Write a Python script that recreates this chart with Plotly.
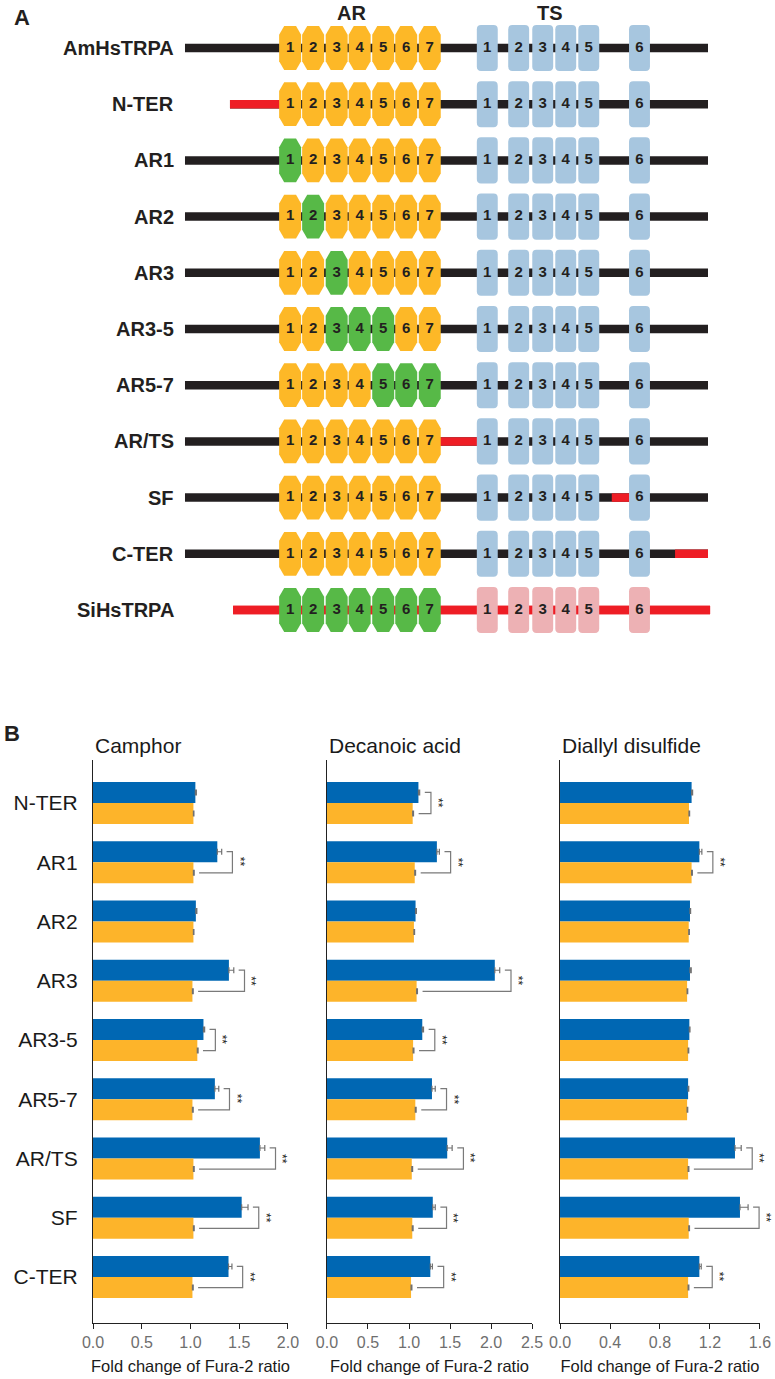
import plotly.graph_objects as go

# ---- Panel A: domain maps (positions in arbitrary sequence units) ----
CONSTRUCTS = ["AmHsTRPA", "N-TER", "AR1", "AR2", "AR3", "AR3-5", "AR5-7",
              "AR/TS", "SF", "C-TER", "SiHsTRPA"]
AR_REPEATS = ["1", "2", "3", "4", "5", "6", "7"]
AR_CENTERS = [201, 245, 290, 334, 379, 423, 468]
TS_SEGMENTS = ["1", "2", "3", "4", "5", "6"]
TS_CENTERS = [578, 638, 684, 728, 772, 869]
BACKBONE_START = [0, 86, 0, 0, 0, 0, 0, 0, 0, 0, 92]
BACKBONE_END = [1000, 1000, 1000, 1000, 1000, 1000, 1000, 1000, 1000, 1000, 1004]
RED_SEGMENTS = {
    "N-TER": (86, 201),
    "AR/TS": (468, 578),
    "SF": (816, 869),
    "C-TER": (937, 1000),
    "SiHsTRPA": (92, 1004),
}
GREEN_REPEATS = {
    "AR1": ["1"],
    "AR2": ["2"],
    "AR3": ["3"],
    "AR3-5": ["3", "4", "5"],
    "AR5-7": ["5", "6", "7"],
    "SiHsTRPA": AR_REPEATS,
}
PINK_TS = ["SiHsTRPA"]

# ---- Panel B: Fura-2 fold change ----
MUTANTS = ["N-TER", "AR1", "AR2", "AR3", "AR3-5", "AR5-7", "AR/TS", "SF", "C-TER"]

CAMPHOR_CHIMERA = [1.05, 1.275, 1.055, 1.394, 1.133, 1.25, 1.712, 1.525, 1.39]
CAMPHOR_CHIMERA_ERR = [0.01, 0.045, 0.01, 0.05, 0.012, 0.04, 0.05, 0.065, 0.035]
CAMPHOR_AMHS = [1.03, 1.03, 1.03, 1.02, 1.07, 1.02, 1.03, 1.03, 1.02]
CAMPHOR_AMHS_ERR = [0.005, 0.008, 0.005, 0.008, 0.008, 0.008, 0.008, 0.008, 0.008]
CAMPHOR_SIG = [False, True, False, True, True, True, True, True, True]

DECANOIC_CHIMERA = [1.115, 1.34, 1.08, 2.046, 1.162, 1.28, 1.466, 1.29, 1.26]
DECANOIC_CHIMERA_ERR = [0.015, 0.03, 0.01, 0.06, 0.015, 0.04, 0.06, 0.03, 0.025]
DECANOIC_AMHS = [1.045, 1.07, 1.06, 1.093, 1.05, 1.077, 1.034, 1.04, 1.025]
DECANOIC_AMHS_ERR = [0.01, 0.01, 0.008, 0.01, 0.01, 0.01, 0.01, 0.01, 0.01]
DECANOIC_SIG = [True, True, False, True, True, True, True, True, True]

DIALLYL_CHIMERA = [1.053, 1.115, 1.04, 1.04, 1.035, 1.025, 1.40, 1.44, 1.115]
DIALLYL_CHIMERA_ERR = [0.008, 0.02, 0.005, 0.01, 0.005, 0.005, 0.05, 0.065, 0.015]
DIALLYL_AMHS = [1.032, 1.053, 1.03, 1.017, 1.025, 1.017, 1.025, 1.03, 1.025]
DIALLYL_AMHS_ERR = [0.005, 0.006, 0.005, 0.005, 0.005, 0.005, 0.006, 0.006, 0.006]
DIALLYL_SIG = [False, True, False, False, False, False, True, True, True]

FONT = "Arial, Liberation Sans, sans-serif"
NARROW = "Liberation Sans Narrow, Arial Narrow, Liberation Sans, sans-serif"
DARK = "#231F20"
ORANGE = "#FDB827"
GREEN = "#57B947"
STEEL = "#A7C6DF"
PINK = "#EDB1B4"
RED = "#EE1D25"
BAR_BLUE = "#0067B3"
BAR_ORANGE = "#FDB42A"

Y_RANGE = [8.776, -0.726]


def hexagon(cx, cy, hw=21, hh=0.39):
    pts = [(cx - 0.54 * hw, cy - hh), (cx + 0.54 * hw, cy - hh), (cx + hw, cy - 0.6 * hh),
           (cx + hw, cy + 0.6 * hh), (cx + 0.54 * hw, cy + hh), (cx - 0.54 * hw, cy + hh),
           (cx - hw, cy + 0.6 * hh), (cx - hw, cy - 0.6 * hh)]
    return "M " + " L ".join(f"{x},{y}" for x, y in pts) + " Z"


def rounded_box(cx, cy, hw=20, hh=0.41, rx=8, ry=0.08):
    x0, x1, y0, y1 = cx - hw, cx + hw, cy - hh, cy + hh
    return (f"M {x0 + rx},{y0} L {x1 - rx},{y0} Q {x1},{y0} {x1},{y0 + ry} "
            f"L {x1},{y1 - ry} Q {x1},{y1} {x1 - rx},{y1} L {x0 + rx},{y1} "
            f"Q {x0},{y1} {x0},{y1 - ry} L {x0},{y0 + ry} Q {x0},{y0} {x0 + rx},{y0} Z")


def yfrac(y):
    # position inside the (reversed) y range as a fraction of the axis domain
    return (Y_RANGE[0] - y) / (Y_RANGE[0] - Y_RANGE[1])


fig = go.Figure()
shapes = []
annotations = []

# ---- Panel A drawing ----
num_x, num_y, num_text = [], [], []
for row, name in enumerate(CONSTRUCTS):
    ref = dict(xref="x4", yref="y4", layer="below")
    backbone = RED if name == "SiHsTRPA" else DARK
    shapes.append(dict(type="line", x0=BACKBONE_START[row], x1=BACKBONE_END[row], y0=row, y1=row,
                       line=dict(color=backbone, width=8.5), **ref))
    if name in RED_SEGMENTS:
        a, b = RED_SEGMENTS[name]
        shapes.append(dict(type="line", x0=a, x1=b, y0=row, y1=row,
                           line=dict(color=RED, width=8.5), **ref))
    greens = GREEN_REPEATS.get(name, [])
    for label, cx in zip(AR_REPEATS, AR_CENTERS):
        color = GREEN if label in greens else ORANGE
        shapes.append(dict(type="path", path=hexagon(cx, row), fillcolor=color,
                           line=dict(width=0), **ref))
        num_x.append(cx)
        num_y.append(row)
        num_text.append(label)
    box_color = PINK if name in PINK_TS else STEEL
    for label, cx in zip(TS_SEGMENTS, TS_CENTERS):
        shapes.append(dict(type="path", path=rounded_box(cx, row), fillcolor=box_color,
                           line=dict(width=0), **ref))
        num_x.append(cx)
        num_y.append(row)
        num_text.append(label)
    annotations.append(dict(text=f"<b>{name}</b>", x=176 / 775, xref="paper", y=row, yref="y4",
                            xanchor="right", yanchor="middle", showarrow=False,
                            font=dict(family=FONT, size=20, color=DARK)))

fig.add_trace(go.Scatter(x=num_x, y=num_y, text=num_text, mode="text", xaxis="x4", yaxis="y4",
                         textfont=dict(family=FONT, size=15, color=DARK, weight="bold"),
                         hoverinfo="skip", showlegend=False))

annotations.append(dict(text="<b>AR</b>", x=sum(AR_CENTERS) / len(AR_CENTERS) - 15, xref="x4",
                        y=1 - 13 / 1379, yref="paper", yanchor="middle", showarrow=False,
                        font=dict(family=FONT, size=20, color=DARK)))
annotations.append(dict(text="<b>TS</b>", x=sum(TS_CENTERS) / len(TS_CENTERS) - 13, xref="x4",
                        y=1 - 13 / 1379, yref="paper", yanchor="middle", showarrow=False,
                        font=dict(family=FONT, size=20, color=DARK)))
annotations.append(dict(text="<b>A</b>", x=12 / 775, xref="paper", y=1 - 18 / 1379, yref="paper",
                        xanchor="left", yanchor="middle", showarrow=False,
                        font=dict(family=FONT, size=22, color=DARK)))
annotations.append(dict(text="<b>B</b>", x=2 / 775, xref="paper", y=1 - 733 / 1379, yref="paper",
                        xanchor="left", yanchor="middle", showarrow=False,
                        font=dict(family=FONT, size=22, color=DARK)))

# ---- Panel B drawing ----
panels = [
    ("Camphor", CAMPHOR_CHIMERA, CAMPHOR_CHIMERA_ERR, CAMPHOR_AMHS, CAMPHOR_AMHS_ERR, CAMPHOR_SIG,
     2.0, 0.5, [0.12, 0.3716]),
    ("Decanoic acid", DECANOIC_CHIMERA, DECANOIC_CHIMERA_ERR, DECANOIC_AMHS, DECANOIC_AMHS_ERR,
     DECANOIC_SIG, 2.5, 0.5, [0.4219, 0.6865]),
    ("Diallyl disulfide", DIALLYL_CHIMERA, DIALLYL_CHIMERA_ERR, DIALLYL_AMHS, DIALLYL_AMHS_ERR,
     DIALLYL_SIG, 1.6, 0.4, [0.7226, 0.9806]),
]
ypos = list(range(len(MUTANTS)))
y_domain = [1 - 1323 / 1379, 1 - 760 / 1379]
layout_axes = {}

for k, (title, chim, chim_err, amhs, amhs_err, sig, xmax, dtick, xdom) in enumerate(panels, start=1):
    xa, ya = f"x{k}" if k > 1 else "x", f"y{k}" if k > 1 else "y"
    for vals, errs, color in [(chim, chim_err, BAR_BLUE), (amhs, amhs_err, BAR_ORANGE)]:
        fig.add_trace(go.Bar(
            x=vals, y=ypos, orientation="h", xaxis=xa, yaxis=ya,
            marker=dict(color=color, line=dict(width=0)),
            error_x=dict(type="data", array=errs, arrayminus=[0] * len(errs), symmetric=False,
                         color="#707070", thickness=1.2, width=3),
            showlegend=False, hoverinfo="x",
        ))
    # significance brackets, placed on the axis domain so they may run past the last tick
    gap = 0.025 * xmax
    reach = 0.055 * xmax
    for i, flag in enumerate(sig):
        if not flag:
            continue
        top = chim[i] + chim_err[i]
        bx = (top + reach) / xmax
        y_up, y_lo = yfrac(i - 0.18), yfrac(i + 0.18)
        path = (f"M {(top + gap) / xmax},{y_up} L {bx},{y_up} L {bx},{y_lo} "
                f"L {(amhs[i] + amhs_err[i] + gap) / xmax},{y_lo}")
        shapes.append(dict(type="path", path=path, xref=f"{xa} domain", yref=f"{ya} domain",
                           layer="above", line=dict(color="#7a7a7a", width=1.2)))
        annotations.append(dict(text="**", x=bx, xref=f"{xa} domain", y=yfrac(i),
                                yref=f"{ya} domain", xanchor="center", yanchor="middle",
                                xshift=7, textangle=90, showarrow=False,
                                font=dict(family=FONT, size=12, color="#222222")))
    annotations.append(dict(text=title, x=xdom[0], xref="paper", y=1 - 745 / 1379, yref="paper",
                            xanchor="left", yanchor="middle", showarrow=False,
                            font=dict(family=FONT, size=21, color="#1a1a1a")))
    ticks = [round(dtick * j, 2) for j in range(int(round(xmax / dtick)) + 1)]
    layout_axes[f"xaxis{k if k > 1 else ''}"] = dict(
        domain=xdom, anchor=ya, range=[0, xmax], tickvals=ticks, tickformat=".1f",
        ticks="outside", ticklen=5, tickcolor="#222222", showline=True, linecolor="#222222",
        linewidth=1, showgrid=False, zeroline=False, automargin=False,
        tickfont=dict(family=NARROW, size=16, color="#6e6e6e"),
        title=dict(text="Fold change of Fura-2 ratio", standoff=10,
                   font=dict(family=FONT, size=16.5, color="#1a1a1a")),
    )
    layout_axes[f"yaxis{k if k > 1 else ''}"] = dict(
        domain=y_domain, anchor=xa, range=Y_RANGE, tickvals=ypos, ticktext=MUTANTS,
        showticklabels=(k == 1), ticks="", ticklabelstandoff=10, showline=True,
        linecolor="#222222", linewidth=1.2, showgrid=False, zeroline=False, automargin=False,
        tickfont=dict(family=FONT, size=21, color="#1a1a1a"),
    )

fig.update_layout(
    width=775, height=1379,
    margin=dict(l=0, r=0, t=0, b=0, autoexpand=False),
    paper_bgcolor="white", plot_bgcolor="rgba(0,0,0,0)",
    barmode="group", bargap=0.29, bargroupgap=0,
    shapes=shapes, annotations=annotations,
    xaxis4=dict(domain=[0, 1], range=[-353.7, 1128.1], visible=False, anchor="y4",
                automargin=False),
    yaxis4=dict(domain=[1 - 638.1 / 1379, 1 - 19.9 / 1379], range=[10.5, -0.5], visible=False,
                anchor="x4", automargin=False),
    **layout_axes,
)

# the page's default body margin would push the 775px figure off the window
fig.write_html("out.html", config={"displayModeBar": False},
               post_script="document.body.style.margin = '0';")
